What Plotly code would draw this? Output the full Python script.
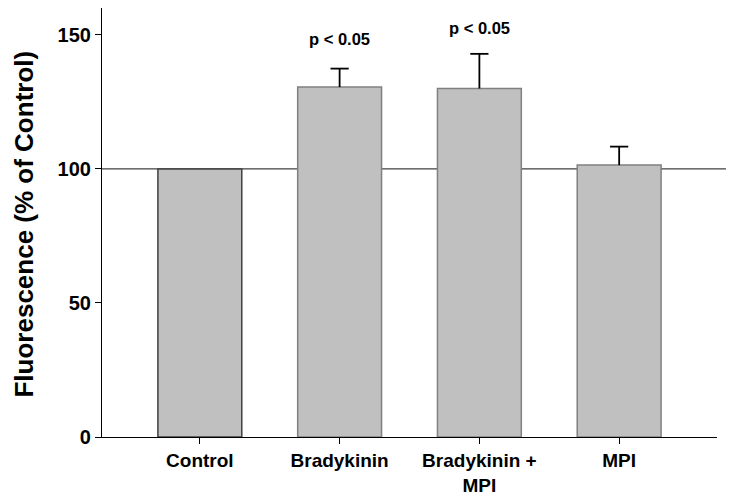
import plotly.graph_objects as go

categories = ["Control", "Bradykinin", "Bradykinin +<br>MPI", "MPI"]
values = [100, 130.5, 130.0, 101.4]
errors = [None, 6.9, 12.9, 6.9]
annotations_text = ["", "p < 0.05", "p < 0.05", ""]
annotation_y = [None, 148.5, 152.6, None]
y_ticks = [0, 50, 100, 150]

x_idx = list(range(len(categories)))
FONT = "Arial, Liberation Sans, Helvetica, sans-serif"

err_plus = [e if e is not None else 0 for e in errors]
cap_y = [v + e if e is not None else None for v, e in zip(values, errors)]

fig = go.Figure()
fig.add_trace(go.Bar(
    x=x_idx, y=values, width=0.6,
    marker=dict(color="#c0c0c0", line=dict(color=["#404040", "#808080", "#808080", "#808080"], width=1.5)),
    showlegend=False, hoverinfo="skip",
))
# error stems (no caps) drawn from bar top upward
fig.add_trace(go.Scatter(
    x=x_idx, y=values, mode="markers", marker=dict(size=0.1, color="rgba(0,0,0,0)"),
    error_y=dict(type="data", array=err_plus, arrayminus=[0, 0, 0, 0], symmetric=False,
                 color="black", thickness=1.8, width=0, visible=True),
    showlegend=False, hoverinfo="skip",
))
# caps only at the top
fig.add_trace(go.Scatter(
    x=x_idx, y=cap_y, mode="markers",
    marker=dict(symbol="line-ew-open", size=13, color="black", line=dict(color="black", width=1.8)),
    showlegend=False, hoverinfo="skip",
))

fig.add_shape(type="line", xref="paper", yref="y", x0=0, x1=1.0146, y0=100, y1=100,
              line=dict(color="#404040", width=1.2), layer="below")

for i, (t, ya) in enumerate(zip(annotations_text, annotation_y)):
    if t:
        fig.add_annotation(x=i, y=ya, text="<b>%s</b>" % t, showarrow=False,
                           font=dict(family=FONT, size=16.5, color="black"))

fig.add_annotation(xref="paper", yref="paper", x=-0.1276, y=0.4965, xanchor="center", yanchor="middle",
                   text="<b>Fluorescence (% of Control)</b>", textangle=-90, showarrow=False,
                   font=dict(family=FONT, size=26, color="black"))

fig.update_layout(
    width=735, height=498,
    margin=dict(l=94, r=26, t=0, b=69, autoexpand=False),
    plot_bgcolor="white", paper_bgcolor="white",
    font=dict(family=FONT, color="black"),
)
fig.update_xaxes(
    range=[-0.70, 3.70], tickmode="array", tickvals=x_idx,
    ticktext=["<b>%s</b>" % c for c in categories],
    tickfont=dict(size=19, family=FONT),
    showline=True, linecolor="black", linewidth=1.2,
    ticks="outside", ticklen=6, tickcolor="black",
    showgrid=False, zeroline=False, automargin=False,
)
fig.update_yaxes(
    range=[0, 160], tickmode="array", tickvals=y_ticks,
    ticktext=["<b>%d</b>" % v for v in y_ticks],
    tickfont=dict(size=20, family=FONT),
    showline=True, linecolor="black", linewidth=1.2,
    ticks="outside", ticklen=6, tickcolor="black",
    showgrid=False, zeroline=False, automargin=False,
)

fig.write_html("out.html")
